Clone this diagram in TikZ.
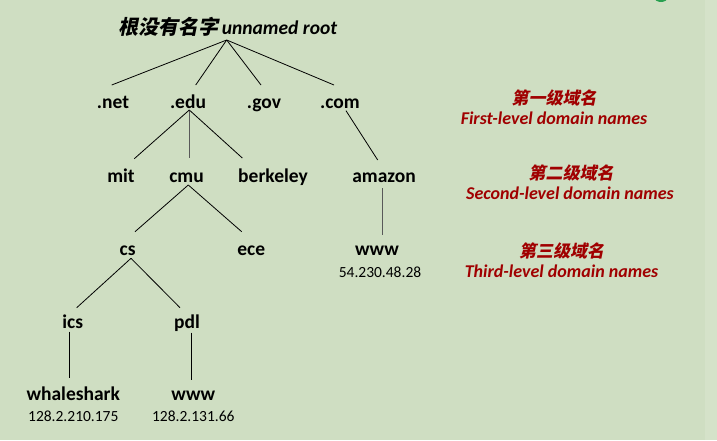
\documentclass[tikz,border=0pt]{standalone}
\usepackage{fontspec}
\setmainfont{Carlito}
\newfontfamily\cjk[FakeSlant=0.2]{Noto Sans CJK SC}
\definecolor{bgc}{RGB}{207,222,194}
\definecolor{bgr}{RGB}{213,226,201}
\definecolor{darkred}{RGB}{160,0,0}
\definecolor{blip}{RGB}{40,160,80}
\begin{document}
\begin{tikzpicture}[x=1pt,y=-1pt,
  lbl/.style={anchor=base,inner sep=0pt,font=\bfseries\fontsize{19.5}{22}\selectfont},
  ipt/.style={anchor=base,inner sep=0pt,font=\fontsize{15.5}{18}\selectfont},
  redcn/.style={anchor=center,inner sep=0pt,text=darkred,font=\cjk\bfseries\fontsize{17}{20}\selectfont},
  reden/.style={anchor=base,inner sep=0pt,text=darkred,font=\bfseries\itshape\fontsize{18}{20}\selectfont},
  edge/.style={draw=black,line width=0.8pt},
  gedge/.style={draw=black!65,line width=1.4pt}]
\useasboundingbox (0,0) rectangle (717,440);
\fill[bgc] (0,0) rectangle (705,440);
\fill[bgr] (705,0) rectangle (717,440);
\begin{scope}
\clip (0,0) rectangle (717,440);
\fill[blip] (661,-3) ellipse (7 and 5);
\end{scope}

\node[lbl] (root) at (228,34) {{\cjk\bfseries\fontsize{20}{22}\selectfont 根没有名字}\hspace{3pt}\itshape unnamed root};

\node[lbl] (net) at (113,108) {.net};
\node[lbl] (edu) at (188,108) {.edu};
\node[lbl] (gov) at (264,108) {.gov};
\node[lbl] (com) at (340,108) {.com};

\node[lbl] (mit) at (121,182) {mit};
\node[lbl] (cmu) at (186.5,182) {cmu};
\node[lbl] (berkeley) at (273,182) {berkeley};
\node[lbl] (amazon) at (384,182) {amazon};

\node[lbl] (cs) at (127.7,255) {cs};
\node[lbl] (ece) at (251.3,255) {ece};
\node[lbl] (wwwa) at (377,255) {www};
\node[ipt] (ipa) at (380,277) {54.230.48.28};

\node[lbl] (ics) at (72.7,328) {ics};
\node[lbl] (pdl) at (187,328) {pdl};

\node[lbl] (whale) at (73.3,400) {whaleshark};
\node[ipt] (ipw) at (73.3,421.5) {128.2.210.175};
\node[lbl] (wwwb) at (193.3,400) {www};
\node[ipt] (ipb) at (193.3,421.5) {128.2.131.66};

\node[redcn] (c1) at (554,97.5) {第一级域名};
\node[reden] (e1) at (554,124.3) {First-level domain names};
\node[redcn] (c2) at (571,172.5) {第二级域名};
\node[reden] (e2) at (570,199.5) {Second-level domain names};
\node[redcn] (c3) at (561.7,250.5) {第三级域名};
\node[reden] (e3) at (561.5,277.5) {Third-level domain names};

\draw[edge] ([shift={(-1.3,6)}]root.base) -- ([shift={(-1.3,-23)}]net.base);
\draw[edge] ([shift={(-1.3,6)}]root.base) -- ([shift={(7.7,-23)}]edu.base);
\draw[edge] ([shift={(-1.3,6)}]root.base) -- ([shift={(-3,-23)}]gov.base);
\draw[edge] ([shift={(-1.3,6)}]root.base) -- ([shift={(-6,-23)}]com.base);

\draw[edge] ([shift={(1.3,2)}]edu.base) -- ([shift={(13.3,-23.3)}]mit.base);
\draw[gedge] ([shift={(1.3,2)}]edu.base) -- ([shift={(2.8,-24)}]cmu.base);
\draw[edge] ([shift={(1.3,2)}]edu.base) -- ([shift={(-30.7,-24)}]berkeley.base);
\draw[edge] ([shift={(6,2.7)}]com.base) -- ([shift={(-6.3,-22)}]amazon.base);
\draw[gedge] ([shift={(-1.3,6)}]amazon.base) -- ([shift={(5.7,-20)}]wwwa.base);

\draw[edge] ([shift={(1.8,3)}]cmu.base) -- ([shift={(7.3,-23.3)}]cs.base);
\draw[edge] ([shift={(1.8,3)}]cmu.base) -- ([shift={(-9.6,-23.3)}]ece.base);
\draw[edge] ([shift={(3.3,3.3)}]cs.base) -- ([shift={(4,-20.3)}]ics.base);
\draw[edge] ([shift={(3.3,3.3)}]cs.base) -- ([shift={(-7,-20.3)}]pdl.base);
\draw[edge] ([shift={(-3,3.7)}]ics.base) -- ([shift={(-3.6,-22.3)}]whale.base);
\draw[edge,line width=1pt] ([shift={(4.3,4.7)}]pdl.base) -- ([shift={(-2,-20)}]wwwb.base);
\end{tikzpicture}
\end{document}
